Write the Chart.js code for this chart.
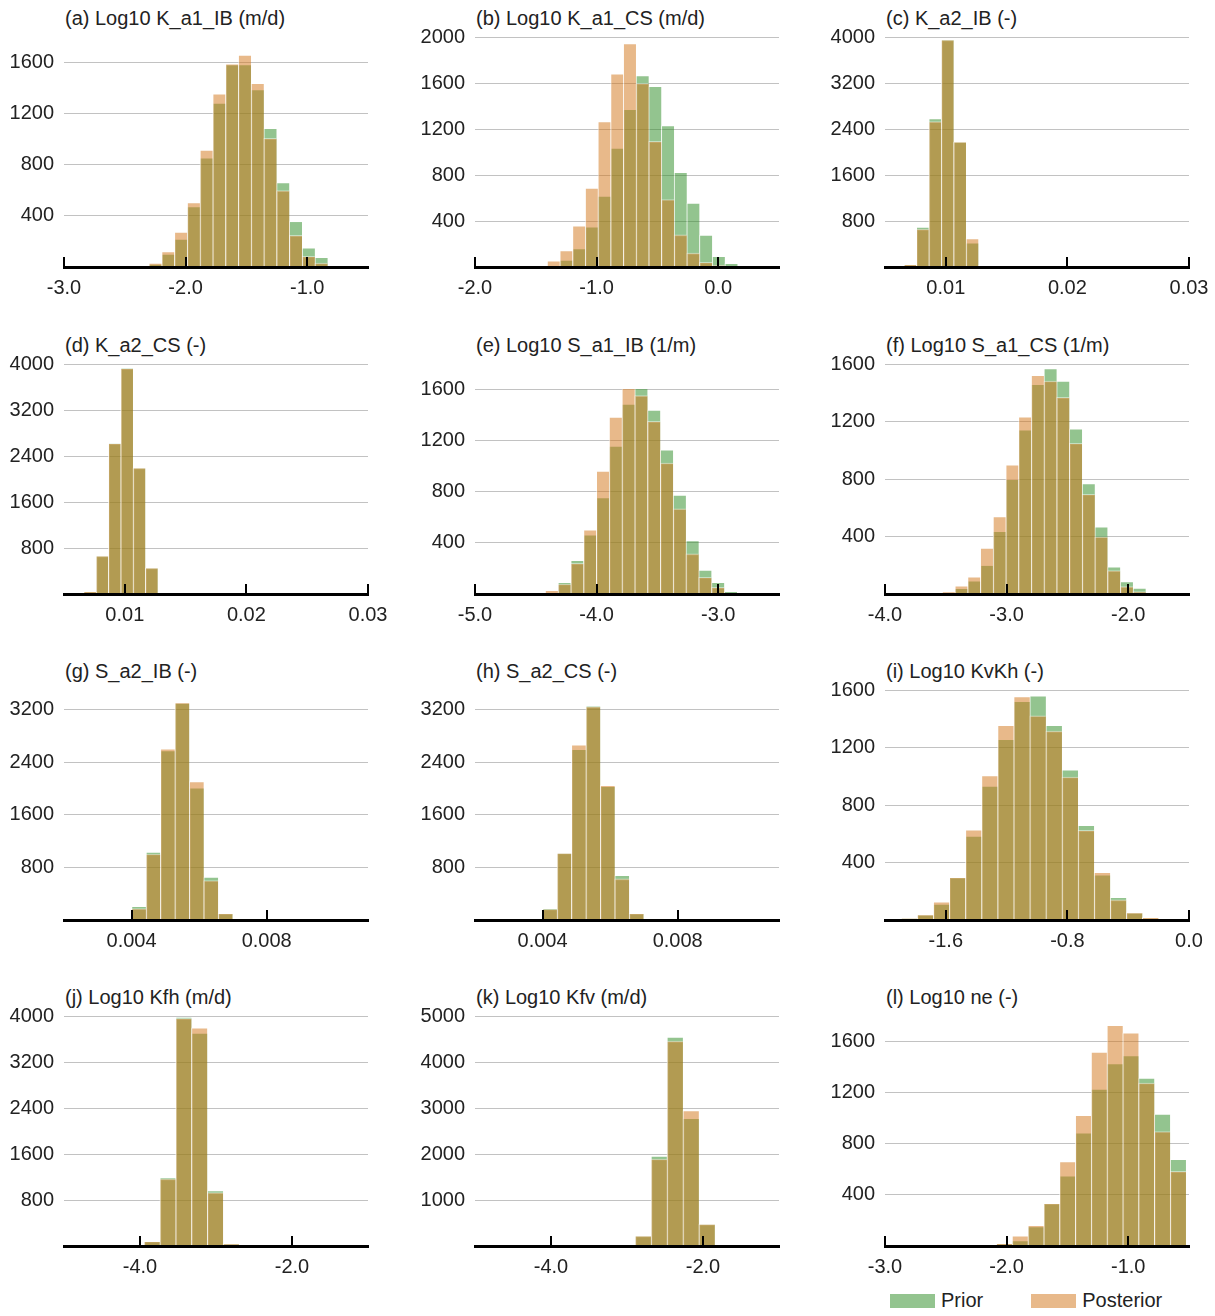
<!DOCTYPE html>
<html>
<head>
<meta charset="utf-8">
<title>Prior vs posterior histograms</title>
<script src="https://cdn.jsdelivr.net/npm/chart.js@4.4.0/dist/chart.umd.min.js"></script>
<style>
  body { margin: 0; background: #fff; font-family: "Liberation Sans", Arial, sans-serif; overflow: hidden; }
  #page { position: relative; width: 1215px; height: 1316px; overflow: hidden; }
  .panel { position: absolute; }
  .title { position: absolute; font-size: 20px; line-height: 24px; color: #222; white-space: nowrap; }
  .legend { position: absolute; top: 1288px; left: 890px; font-size: 20px; line-height: 24px; color: #222; white-space: nowrap; }
  .legend span.box { display: inline-block; width: 45px; height: 14px; vertical-align: -1px; margin-right: 6px; }
  .legend span.item { margin-right: 48px; }
</style>
</head>
<body>
<div id="page"></div>
<script>
// panel titles, in reading order
const titles = [
    "(a) Log10 K_a1_IB (m/d)", "(b) Log10 K_a1_CS (m/d)", "(c) K_a2_IB (-)",
    "(d) K_a2_CS (-)", "(e) Log10 S_a1_IB (1/m)", "(f) Log10 S_a1_CS (1/m)",
    "(g) S_a2_IB (-)", "(h) S_a2_CS (-)", "(i) Log10 KvKh (-)",
    "(j) Log10 Kfh (m/d)", "(k) Log10 Kfv (m/d)", "(l) Log10 ne (-)"
];

// histogram bins: left edge of first bin and bin width
const binStarts = [-2.407, -1.407, 0.00656, 0.006616, -4.423, -3.530, 0.004, 0.004, -1.894, -3.947, -2.894, -2.085];
const binWidths = [0.105, 0.1044, 0.00102, 0.001014, 0.1052, 0.1046, 0.000427, 0.000427, 0.1058, 0.208, 0.2098, 0.13];

// counts per bin
const priorA = [10, 22, 102, 218, 472, 855, 1283, 1585, 1584, 1388, 1086, 661, 357, 150, 76, 10];
const postA  = [0, 30, 120, 273, 504, 915, 1356, 1590, 1658, 1437, 1007, 598, 247, 84, 31, 3];
const priorB = [3, 61, 161, 350, 616, 1034, 1370, 1664, 1571, 1229, 823, 555, 277, 93, 32];
const postB  = [53, 143, 359, 686, 1264, 1679, 1942, 1597, 1092, 587, 280, 120, 41, 15, 2];
const priorC = [40, 695, 2581, 3954, 2178, 420, 23];
const postC  = [47, 660, 2529, 3950, 2178, 496, 20];
const priorD = [40, 663, 2625, 3935, 2194, 454, 17];
const postD  = [47, 663, 2620, 3925, 2194, 454, 17];
const priorE = [5, 91, 264, 463, 755, 1158, 1487, 1610, 1440, 1129, 774, 418, 188, 91, 21];
const postE  = [29, 78, 240, 502, 962, 1385, 1610, 1553, 1351, 1025, 667, 314, 131, 52, 8];
const priorF = [7, 40, 91, 200, 436, 797, 1142, 1459, 1568, 1482, 1149, 769, 468, 189, 86, 42];
const postF  = [16, 56, 119, 319, 538, 899, 1233, 1521, 1482, 1368, 1049, 694, 398, 163, 51, 16];
const priorG = [209, 1034, 2579, 3302, 2013, 652, 102];
const postG  = [173, 1004, 2604, 3310, 2105, 601, 102];
const priorH = [178, 1019, 2599, 3261, 2033, 678, 102];
const postH  = [168, 1019, 2665, 3246, 2049, 627, 102];
const priorI = [14, 37, 110, 296, 583, 932, 1256, 1521, 1559, 1354, 1044, 659, 315, 158, 51, 12];
const postI  = [14, 37, 126, 296, 627, 1004, 1354, 1554, 1421, 1314, 995, 624, 331, 140, 51, 19];
const priorJ = [82, 1191, 3983, 3703, 964, 41];
const postJ  = [82, 1168, 3960, 3796, 929, 41];
const priorK = [219, 1956, 4540, 2774, 475];
const postK  = [219, 1891, 4453, 2942, 475];
const priorL = [18, 42, 152, 333, 550, 886, 1229, 1428, 1491, 1315, 1032, 679];
const postL  = [21, 79, 162, 333, 660, 1022, 1517, 1727, 1669, 1276, 896, 584];

const priors = [priorA, priorB, priorC, priorD, priorE, priorF, priorG, priorH, priorI, priorJ, priorK, priorL];
const posts  = [postA, postB, postC, postD, postE, postF, postG, postH, postI, postJ, postK, postL];

// axes
const xMins = [-3, -2, 0.005, 0.005, -5, -4, 0.002, 0.002, -2, -5, -5, -3];
const xMaxs = [-0.5, 0.5, 0.03, 0.03, -2.5, -1.5, 0.011, 0.011, 0, -1, -1, -0.5];
const xTicks = [
    [-3, -2, -1], [-2, -1, 0], [0.01, 0.02, 0.03],
    [0.01, 0.02, 0.03], [-5, -4, -3], [-4, -3, -2],
    [0.004, 0.008], [0.004, 0.008], [-1.6, -0.8, 0],
    [-4, -2], [-4, -2], [-3, -2, -1]
];
const xDecimals = [1, 1, 2, 2, 1, 1, 3, 3, 1, 1, 1, 1];
const yMaxs = [1800, 2000, 4000, 4000, 1800, 1600, 3500, 3500, 1600, 4000, 5000, 1800];
const yTicks = [
    [400, 800, 1200, 1600], [400, 800, 1200, 1600, 2000], [800, 1600, 2400, 3200, 4000],
    [800, 1600, 2400, 3200, 4000], [400, 800, 1200, 1600], [400, 800, 1200, 1600],
    [800, 1600, 2400, 3200], [800, 1600, 2400, 3200], [400, 800, 1200, 1600],
    [800, 1600, 2400, 3200, 4000], [1000, 2000, 3000, 4000, 5000], [400, 800, 1200, 1600]
];

const PRIOR = "rgba(39, 137, 31, 0.5)";
const POST = "rgba(209, 115, 21, 0.5)";
const EDGE = "rgba(255, 255, 255, 0.45)";

Chart.defaults.font.family = '"Liberation Sans", Arial, sans-serif';
Chart.defaults.font.size = 20;
Chart.defaults.color = "#222";

// small black tick marks standing up from the x axis
const innerTicks = {
    id: "innerTicks",
    afterDraw(chart) {
        const xs = chart.scales.x;
        const ctx = chart.ctx;
        const bottom = chart.chartArea.bottom;
        ctx.save();
        ctx.strokeStyle = "#000";
        ctx.lineWidth = 2;
        xs.ticks.forEach(t => {
            const px = Math.round(xs.getPixelForValue(t.value));
            ctx.beginPath();
            ctx.moveTo(px, bottom - 10);
            ctx.lineTo(px, bottom);
            ctx.stroke();
        });
        ctx.restore();
    }
};

const page = document.getElementById("page");
const colLeft = [64, 475, 885];
const rowTop = [37, 364, 690, 1016];
const PAD_TOP = 24, PAD_RIGHT = 40, AXIS_W = 64, AXIS_H = 42;

function toPoints(counts, i) {
    return counts.map((v, k) => ({ x: binStarts[i] + binWidths[i] * (k + 0.5), y: v }));
}

titles.forEach((title, i) => {
    const left = colLeft[i % 3];
    const top = rowTop[Math.floor(i / 3)];

    const t = document.createElement("div");
    t.className = "title";
    t.style.left = (left + 1) + "px";
    t.style.top = (top - 31) + "px";
    t.textContent = title;
    page.appendChild(t);

    const canvas = document.createElement("canvas");
    canvas.className = "panel";
    canvas.width = AXIS_W + 304 + PAD_RIGHT;
    canvas.height = PAD_TOP + 230 + AXIS_H;
    canvas.style.left = (left - AXIS_W) + "px";
    canvas.style.top = (top - PAD_TOP) + "px";
    page.appendChild(canvas);

    const bar = {
        grouped: false,
        barPercentage: 1,
        categoryPercentage: 1,
        borderColor: EDGE,
        borderWidth: { top: 1, left: 1, right: 0, bottom: 0 }
    };

    new Chart(canvas, {
        type: "bar",
        data: {
            datasets: [
                Object.assign({ label: "Prior", data: toPoints(priors[i], i), backgroundColor: PRIOR, order: 2 }, bar),
                Object.assign({ label: "Posterior", data: toPoints(posts[i], i), backgroundColor: POST, order: 1 }, bar)
            ]
        },
        options: {
            responsive: false,
            animation: false,
            layout: { padding: { top: PAD_TOP, right: PAD_RIGHT, left: 0, bottom: 0 } },
            plugins: { legend: { display: false }, tooltip: { enabled: false } },
            scales: {
                x: {
                    type: "linear",
                    min: xMins[i],
                    max: xMaxs[i],
                    offset: false,
                    grid: { display: true, drawOnChartArea: false, drawTicks: false, offset: false },
                    border: { display: true, color: "#000", width: 3, z: 1 },
                    ticks: { autoSkip: false, maxRotation: 0, padding: 9, callback: v => Number(v).toFixed(xDecimals[i]) },
                    afterBuildTicks: s => { s.ticks = xTicks[i].map(v => ({ value: v })); },
                    afterFit: s => { s.height = AXIS_H; }
                },
                y: {
                    min: 0,
                    max: yMaxs[i],
                    grid: { color: "#c2c2c2", drawTicks: false },
                    border: { display: false },
                    ticks: { autoSkip: false, padding: 10, callback: v => String(v) },
                    afterBuildTicks: s => { s.ticks = yTicks[i].map(v => ({ value: v })); },
                    afterFit: s => { s.width = AXIS_W; }
                }
            }
        },
        plugins: [innerTicks]
    });
});

// legend under the last panel
const legend = document.createElement("div");
legend.className = "legend";
legend.innerHTML =
    '<span class="item"><span class="box" style="background:' + PRIOR + '"></span>Prior</span>' +
    '<span><span class="box" style="background:' + POST + '"></span>Posterior</span>';
page.appendChild(legend);
</script>
</body>
</html>
